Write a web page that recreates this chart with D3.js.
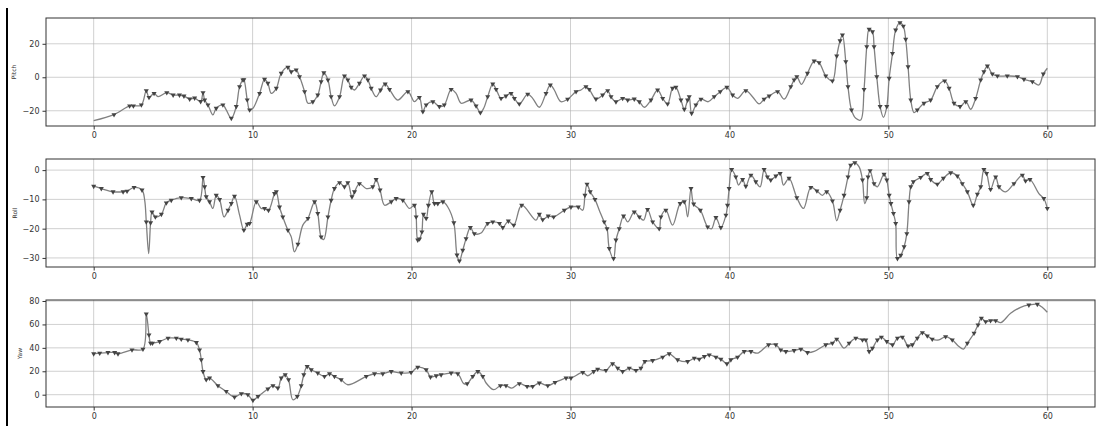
<!DOCTYPE html>
<html><head><meta charset="utf-8">
<script src="https://cdn.jsdelivr.net/npm/d3@7"></script>
<style>body{margin:0;background:#fff;font-family:"DejaVu Sans",sans-serif}</style>
</head><body><svg id="c" width="1098" height="426"></svg>
<script>
// [time, value, marker(1/0)]
const pitchData = [[0,-25.9,0],[1.28,-22.3,1],[2.26,-17.1,1],[2.5,-17.1,1],[3.0,-16.5,1],[3.31,-8,1],[3.48,-12,1],[3.8,-9.6,1],[4.05,-11.6,0],[4.6,-9.2,1],[5.0,-10.6,1],[5.4,-10.6,1],[5.68,-11.2,1],[6.04,-13,1],[6.35,-12.4,1],[6.73,-14.5,1],[6.88,-9.2,1],[6.98,-13.6,1],[7.19,-16.5,1],[7.5,-22.5,0],[7.71,-18.5,1],[8.13,-16.5,1],[8.34,-19.5,0],[8.66,-24.5,1],[8.97,-17.5,1],[9.18,-5.6,1],[9.39,-1.6,1],[9.45,-1.4,1],[9.66,-13.5,1],[9.81,-19.5,1],[10.02,-18.5,0],[10.44,-9.6,1],[10.75,-1.2,1],[10.96,-3.6,1],[11.17,-9.6,0],[11.49,-6.6,1],[11.8,2.4,1],[12.22,6,1],[12.43,3.3,1],[12.74,4.4,1],[12.95,0.4,1],[13.27,-8.6,1],[13.48,-15.5,0],[13.79,-14.6,1],[14.1,-10.6,1],[14.31,-2.6,1],[14.48,2.7,1],[14.74,-1.6,1],[14.94,-11.6,1],[15.15,-17.1,0],[15.47,-11.6,1],[15.78,0.8,1],[15.99,-1.6,1],[16.2,-6,1],[16.41,-7.6,0],[16.72,-3.6,1],[17.04,0.8,1],[17.25,-1.6,1],[17.46,-6.6,1],[17.77,-11.6,0],[18.05,-7.6,1],[18.34,-4,1],[18.61,-7.2,1],[19.13,-13.6,0],[19.77,-8.6,1],[20.18,-14.6,0],[20.49,-12,1],[20.71,-20.5,1],[20.92,-16.5,1],[21.34,-14.6,1],[21.75,-17.5,1],[22.06,-16.5,1],[22.49,-7.2,1],[22.8,-9.6,0],[23.12,-15.5,0],[23.74,-13.6,1],[24.06,-17.1,1],[24.33,-21.1,1],[24.54,-18.5,0],[24.79,-11.6,1],[25.11,-4,1],[25.32,-7.2,1],[25.63,-12.6,1],[25.94,-11.2,1],[26.26,-9.6,1],[26.47,-12.6,1],[26.78,-15.9,1],[27.31,-10.1,1],[27.62,-12.6,0],[28.04,-17.9,0],[28.46,-9.6,1],[28.73,-4.6,1],[28.98,-7.6,0],[29.4,-14.6,0],[29.82,-13.1,1],[30.35,-8.6,1],[30.66,-7.6,0],[30.97,-5.6,1],[31.18,-7.2,1],[31.6,-13,1],[32.02,-10.6,1],[32.34,-8,1],[32.55,-11.6,1],[32.86,-14.6,1],[33.28,-12.6,1],[33.6,-13.6,1],[34.01,-13,1],[34.33,-14.6,1],[34.64,-17.9,0],[35.06,-13.6,1],[35.48,-7.6,1],[35.8,-12.6,1],[36.11,-15.9,1],[36.42,-6.6,1],[36.63,-6,1],[36.95,-13.6,1],[37.16,-19.1,1],[37.37,-13.6,1],[37.47,-11.6,1],[37.62,-21.5,1],[37.89,-16.5,1],[38.21,-13.1,1],[38.67,-14.6,0],[39.04,-11.6,1],[39.42,-8.6,1],[39.84,-6,1],[40.2,-10.6,1],[40.51,-12.6,0],[41.03,-8,1],[41.45,-11.6,0],[41.87,-15.9,0],[42.18,-13.1,1],[42.5,-11.2,1],[43.03,-8.6,1],[43.44,-13.1,0],[43.86,-5.6,1],[44.07,-1.6,1],[44.24,0.4,1],[44.53,-4.2,0],[44.91,2.4,1],[45.33,9.7,1],[45.64,8.7,1],[46.06,0.8,1],[46.48,-2.2,1],[46.75,12.7,1],[46.96,21.8,1],[47.11,25.3,1],[47.32,9.3,1],[47.46,-5.6,1],[47.68,-19.5,1],[47.95,-24.5,0],[48.26,-25.5,0],[48.47,-7.2,1],[48.64,18.3,1],[48.79,28.7,1],[49.0,27.2,1],[49.1,18.3,1],[49.27,0.4,1],[49.48,-17.5,1],[49.69,-23.9,0],[49.9,-17.5,1],[50.05,-0.6,1],[50.26,14.3,1],[50.46,28.2,1],[50.73,32.6,1],[50.94,30.5,1],[51.09,22.7,1],[51.24,6.3,1],[51.41,-13.6,1],[51.61,-21.1,0],[51.82,-19.5,1],[52.24,-15.5,1],[52.66,-13.6,1],[53.08,-5.6,1],[53.54,-2.2,1],[53.82,-6.6,1],[54.13,-15.5,1],[54.51,-17.5,1],[54.87,-14.6,1],[55.18,-19.1,0],[55.49,-12.6,1],[55.81,-1.6,1],[56.01,3.3,1],[56.23,6.7,1],[56.54,2,1],[56.86,0.8,1],[57.48,0.8,1],[58.12,0.4,1],[58.53,-1.2,1],[59.06,-2.6,1],[59.47,-4.6,0],[59.75,2,1],[60,5.4,0]];

const rollData = [[0,-5.5,1],[0.48,-6.3,1],[1.22,-7.4,1],[1.85,-7.4,1],[2.1,-7.2,1],[2.54,-5.9,1],[3.04,-6.8,1],[3.21,-10.3,0],[3.31,-17.7,1],[3.46,-28.5,0],[3.58,-18,1],[3.67,-14.3,1],[3.88,-16,1],[4.26,-15.1,1],[4.57,-11.2,1],[4.88,-10.3,1],[5.51,-9.4,1],[6.14,-9.7,1],[6.66,-10.3,1],[6.88,-2.5,1],[6.98,-5.7,1],[7.08,-9.1,1],[7.29,-10.8,1],[7.5,-13.1,0],[7.71,-8.6,1],[7.92,-10,1],[8.2,-16,0],[8.45,-13.7,1],[8.66,-11.4,1],[8.86,-8.9,1],[9.18,-15.4,0],[9.45,-20.5,1],[9.66,-18.5,1],[9.81,-18.2,1],[10.23,-10.8,1],[10.54,-13.1,0],[10.75,-13.1,1],[11.0,-13.7,1],[11.38,-8,1],[11.49,-7.4,1],[11.69,-12.6,1],[11.9,-16,1],[12.22,-20.5,1],[12.43,-22.8,0],[12.63,-27.9,0],[12.85,-25.3,1],[13.16,-18.8,0],[13.48,-16.5,1],[13.9,-10.8,1],[14.1,-14.8,1],[14.31,-22.8,1],[14.48,-23.7,0],[14.74,-16,1],[14.94,-10.3,1],[15.15,-6.3,1],[15.47,-4.3,1],[15.78,-5.7,1],[15.99,-4.3,1],[16.25,-9.1,1],[16.41,-7.4,1],[16.72,-4.6,1],[17.15,-6.3,0],[17.56,-5.7,1],[17.77,-3.2,1],[18.02,-6.8,1],[18.3,-12,0],[18.72,-10.8,1],[19.03,-9.7,1],[19.45,-10.3,1],[19.87,-13.1,0],[20.18,-12,1],[20.29,-16,1],[20.39,-23.9,1],[20.5,-23.5,1],[20.65,-21.1,1],[20.75,-15.1,1],[20.92,-16.5,1],[21.06,-12,1],[21.27,-7.4,1],[21.44,-11.4,1],[21.65,-11.4,1],[21.97,-10.8,1],[22.28,-12.6,0],[22.66,-18,1],[22.86,-29,1],[23.01,-31,1],[23.22,-27.4,1],[23.43,-23.4,1],[23.7,-19.6,1],[23.95,-21.7,1],[24.37,-21.5,0],[24.79,-18.2,1],[25.11,-17.7,1],[25.53,-18.2,1],[25.74,-19.6,1],[26.09,-17.4,1],[26.43,-18.8,1],[26.93,-12,1],[27.83,-17.1,0],[28.04,-15.1,1],[28.25,-16.9,1],[28.6,-15.7,1],[28.94,-16,1],[29.61,-13.7,1],[30.03,-12.6,1],[30.49,-12.6,1],[30.77,-13.7,0],[30.91,-8.6,1],[31.04,-4.8,1],[31.24,-7.4,1],[31.54,-10,1],[31.81,-13.7,0],[32.12,-17.7,1],[32.3,-20,1],[32.44,-26.8,1],[32.71,-30.2,1],[32.86,-23.9,1],[33.07,-20,1],[33.34,-15.7,1],[33.6,-17.7,0],[34.01,-14.3,1],[34.33,-16,1],[34.6,-17.1,0],[34.85,-13.4,1],[35.17,-17.7,1],[35.58,-20,1],[35.69,-16,1],[36.0,-13.7,1],[36.42,-18.8,0],[36.9,-11.4,1],[37.16,-10.8,1],[37.37,-16,0],[37.58,-6.3,1],[37.75,-11.6,1],[38.17,-13.7,1],[38.63,-19.4,1],[38.88,-20,0],[39.15,-16.2,1],[39.46,-19.6,1],[39.78,-15.4,1],[39.88,-12,1],[39.98,-6.3,1],[40.14,0.2,1],[40.4,-2.3,1],[40.57,-5.1,0],[40.83,-3.2,1],[41.03,-5.5,1],[41.35,-1.7,1],[41.66,-4,1],[41.93,-5.7,0],[42.18,0.2,1],[42.39,-2.3,1],[42.6,-3.4,1],[42.92,-2,1],[43.19,-1.1,1],[43.4,-5.1,0],[43.75,-2.8,1],[44.24,-9.4,1],[44.66,-13.1,0],[45.12,-5.9,1],[45.5,-7.1,1],[45.85,-8.6,0],[46.12,-7.4,1],[46.48,-10.5,1],[46.75,-17.3,0],[46.96,-13.7,1],[47.21,-8.6,1],[47.46,-2.3,1],[47.63,1.7,1],[47.89,2.5,1],[48.16,1.1,0],[48.37,-3.4,1],[48.51,-11.4,0],[48.64,-9.4,1],[48.72,-2.3,1],[48.85,-0.2,1],[49.1,-4.6,1],[49.31,-5.7,0],[49.73,-1.4,1],[49.9,-3.4,1],[50.05,-8.6,1],[50.16,-11.4,1],[50.32,-14.8,1],[50.46,-18.2,1],[50.57,-30.2,1],[50.78,-29.1,1],[50.99,-26.2,1],[51.16,-21.7,1],[51.3,-10.8,1],[51.41,-5.7,1],[51.57,-4,1],[52.03,-2.5,1],[52.45,-1.1,1],[52.66,-3.2,1],[53.08,-4.8,1],[53.46,-2.8,1],[53.92,-0.9,1],[54.34,-2,1],[54.65,-4.6,1],[54.97,-7.4,1],[55.34,-12,1],[55.6,-8.2,1],[55.81,-5.7,1],[56.01,0.2,1],[56.18,-1.1,1],[56.43,-6.6,1],[56.75,-2.3,1],[56.96,-5.7,1],[57.38,-7.4,0],[57.9,-4.6,1],[58.43,-1.7,1],[58.63,-3.7,1],[58.91,-3.2,1],[59.47,-8,0],[59.78,-9.7,1],[60,-13.1,1]];

const yawData = [[0,34.9,1],[0.38,35.5,1],[0.9,36,1],[1.32,36,1],[1.53,34.9,1],[2.41,38.3,1],[3.1,38.9,1],[3.31,68.9,1],[3.48,51,1],[3.58,44,1],[3.7,44,1],[4.15,45.4,1],[4.68,48.3,1],[5.2,48.3,1],[5.51,47.4,1],[5.93,46.8,1],[6.46,44.5,1],[6.66,38.3,1],[6.77,29.8,1],[6.88,19.8,1],[7.08,12.8,1],[7.29,14.2,1],[7.82,7.7,1],[8.34,2.8,1],[8.86,-2,1],[9.29,0.9,1],[9.7,0,1],[10.02,-4.8,1],[10.34,-1.4,1],[10.96,4.9,1],[11.28,7.7,1],[11.59,5.7,1],[11.8,14.2,1],[12.05,17,1],[12.26,12.8,1],[12.53,-4.3,0],[12.81,-1.4,1],[13.06,7.7,1],[13.22,17,1],[13.43,24.1,1],[13.69,21.3,1],[14.1,18.5,1],[14.52,15.6,1],[14.84,17.9,1],[15.15,15.6,1],[15.57,12.8,1],[15.99,8.5,0],[17.15,15.6,1],[17.67,17.9,1],[18.19,17.9,1],[18.72,19.8,1],[19.35,18.5,1],[19.97,19,1],[20.39,23.5,1],[20.92,21.3,1],[21.19,15.1,1],[21.55,16.2,1],[21.86,17,1],[22.49,18.5,1],[22.91,17.9,1],[23.29,9.4,0],[23.5,9.4,1],[23.85,15.6,1],[24.17,19.8,1],[24.48,15.6,1],[24.69,10,0],[25.17,4.3,0],[25.59,7.7,1],[25.94,7.7,1],[26.3,5.7,0],[26.78,9.4,1],[27.27,7.1,1],[27.62,7.1,1],[28.04,10,1],[28.57,7.7,1],[29.03,10.5,1],[29.72,14.2,1],[30.03,14.2,1],[30.77,19,1],[31.08,16.2,0],[31.46,19.8,1],[31.71,21.8,1],[32.23,20.7,1],[32.65,26.4,1],[32.97,22.7,1],[33.28,19.8,1],[33.7,22.7,1],[34.12,20.7,1],[34.43,22.7,1],[34.68,28.3,1],[35.17,29.2,1],[35.8,32.1,1],[36.21,34.9,1],[36.74,29.8,1],[37.37,28.3,1],[37.79,31.2,1],[38.1,30.4,1],[38.42,32.6,1],[38.73,34,1],[39.15,32.1,1],[39.46,30.4,1],[39.84,26.4,1],[40.09,29.8,1],[40.51,32.1,1],[40.93,36.9,1],[41.35,36.9,1],[41.77,35.5,0],[42.46,42.6,1],[42.92,42.6,1],[43.23,38.3,1],[43.55,36.9,1],[44.07,37.7,1],[44.49,38.9,1],[44.91,36,1],[45.33,36.9,0],[46.06,42.6,1],[46.48,44,1],[46.75,47.4,1],[47.21,39.7,0],[47.53,44,1],[47.95,48.3,1],[48.37,46.8,1],[48.58,46.8,1],[48.79,36.9,1],[49.0,39.7,1],[49.31,46.8,1],[49.56,49.1,1],[49.9,45.4,1],[50.26,42.6,1],[50.57,48.3,1],[50.88,49.1,1],[51.24,41.7,1],[51.51,42.6,1],[51.82,48.3,1],[52.14,53,1],[52.45,50.2,1],[52.76,47.4,1],[53.18,46.8,0],[53.6,49.6,1],[54.02,46.8,1],[54.44,41.1,0],[54.72,38.9,0],[54.97,44,1],[55.39,52.5,1],[55.64,59.6,1],[55.85,65.3,1],[56.12,62.4,1],[56.43,63.2,1],[56.75,63.2,1],[57.07,61.5,0],[57.69,69.5,0],[58.32,74.6,0],[58.84,76.6,1],[59.37,77.2,1],[59.68,74.6,0],[60,70.4,0]];

const labels = ["Pitch","Roll","Yaw"];
const xTicks = [0,10,20,30,40,50,60];
const pitchTicks = [-20,0,20];
const rollTicks = [-30,-20,-10,0];
const yawTicks = [0,20,40,60,80];

const svg = d3.select("#c");
svg.append("rect").attr("x",6).attr("y",8).attr("width",2).attr("height",418).attr("fill","#000");

const L = 46, R = 1095;
const panels = [
  {data: pitchData, ticks: pitchTicks, dom: [-29.1, 35.4], top: 18, bot: 126, label: labels[0], lx: 16},
  {data: rollData, ticks: rollTicks, dom: [-33.1, 3.8], top: 159, bot: 267, label: labels[1], lx: 17},
  {data: yawData, ticks: yawTicks, dom: [-10.5, 80.85], top: 300, bot: 407, label: labels[2], lx: 22}
];
const x = d3.scaleLinear().domain([-3, 63]).range([L, R]);
const tri = d3.symbol().type(d3.symbolTriangle).size(11);

panels.forEach(p => {
  const y = d3.scaleLinear().domain(p.dom).range([p.bot, p.top]);
  const g = svg.append("g");
  g.selectAll(".gx").data(xTicks).join("line")
    .attr("x1", d => x(d)).attr("x2", d => x(d)).attr("y1", p.top).attr("y2", p.bot)
    .attr("stroke", "#b0b0b0").attr("stroke-opacity", 0.6).attr("stroke-width", 1);
  g.selectAll(".gy").data(p.ticks).join("line")
    .attr("x1", L).attr("x2", R).attr("y1", d => y(d)).attr("y2", d => y(d))
    .attr("stroke", "#b0b0b0").attr("stroke-opacity", 0.6).attr("stroke-width", 1);
  const xa = g.append("g").attr("transform", `translate(0,${p.bot})`)
    .call(d3.axisBottom(x).tickValues(xTicks).tickSize(3.5).tickPadding(3).tickFormat(d3.format("d")));
  const ya = g.append("g").attr("transform", `translate(${L},0)`)
    .call(d3.axisLeft(y).tickValues(p.ticks).tickSize(3.5).tickPadding(3).tickFormat(d => d < 0 ? "\u2212" + Math.abs(d) : d));
  [xa, ya].forEach(a => {
    a.select(".domain").remove();
    a.selectAll("line").attr("stroke", "#333");
    a.selectAll("text").attr("font-size", 8).attr("fill", "#333").attr("font-family", "DejaVu Sans");
  });
  const line = d3.line().x(d => x(d[0])).y(d => y(d[1])).curve(d3.curveCatmullRom.alpha(0.5));
  g.append("path").datum(p.data).attr("d", line).attr("fill", "none")
    .attr("stroke", "#808080").attr("stroke-width", 1.3);
  g.selectAll(".m").data(p.data.filter(d => d[2])).join("path")
    .attr("d", tri).attr("transform", d => `translate(${x(d[0])},${y(d[1])}) rotate(180)`)
    .attr("fill", "#444");
  g.append("rect").attr("x", L).attr("y", p.top).attr("width", R - L).attr("height", p.bot - p.top)
    .attr("fill", "none").attr("stroke", "#333").attr("stroke-width", 1);
  g.append("text").attr("transform", `translate(${p.lx},${(p.top + p.bot) / 2}) rotate(-90)`)
    .attr("text-anchor", "middle").attr("font-size", 6).attr("fill", "#333")
    .attr("font-family", "DejaVu Sans").text(p.label);
});
</script></body></html>
